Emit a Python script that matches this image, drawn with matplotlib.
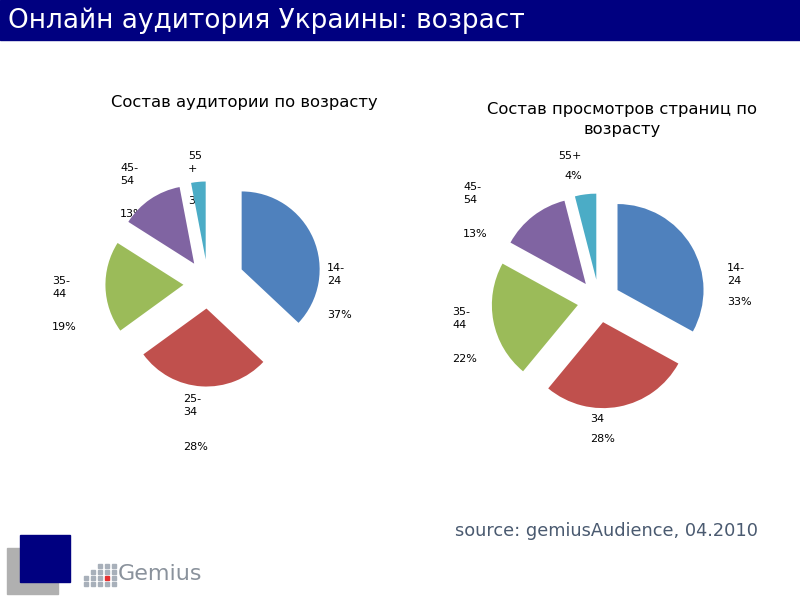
import matplotlib
matplotlib.use('Agg')
import matplotlib.pyplot as plt
from matplotlib.patches import Rectangle

# Data
age_groups = ['14-24', '25-34', '35-44', '45-54', '55+']
audience_share = [37, 28, 19, 13, 3]
pageviews_share = [33, 28, 22, 13, 4]
colors = ['#4F81BD', '#C0504D', '#9BBB59', '#8064A2', '#4BACC6']

# Label texts as they appear on the slide (wrapped / clipped like the original)
left_labels = ['14-\n24', '25-\n34', '35-\n44', '45-\n54', '55\n+']
right_labels = ['14-\n24', '34', '35-\n44', '45-\n54', '55+']

W, H = 800, 600
fig = plt.figure(figsize=(8, 6), dpi=100)
fig.patch.set_facecolor('white')


def fx(x):
    return x / W


def fy(y):
    return 1 - y / H


# header band
fig.patches.append(Rectangle((0, fy(40)), 1, 40 / H, transform=fig.transFigure,
                             color='#000080', zorder=0))
fig.text(fx(8), fy(21), 'Онлайн аудитория Украины: возраст', color='white',
         fontsize=19, va='center', ha='left')


def draw_pie(values, labels, center, radius, explode, title, title_pos,
             name_pos, pct_pos):
    cx, cy = center
    half = 140
    ax = fig.add_axes([fx(cx - half), fy(cy + half), 2 * half / W, 2 * half / H])
    ax.pie(values, colors=colors, startangle=90, counterclock=False,
           explode=explode, wedgeprops=dict(linewidth=0))
    lim = half / radius
    ax.set_xlim(-lim, lim)
    ax.set_ylim(-lim, lim)
    ax.axis('off')
    fig.text(fx(title_pos[0]), fy(title_pos[1]), title, fontsize=11.8,
             ha='center', va='top', linespacing=1.4)
    # labels sit behind the wedges (some are partly hidden in the original)
    for lab, v, (x, y), (px, py) in zip(labels, values, name_pos, pct_pos):
        fig.text(fx(x), fy(y - 4), lab, fontsize=8, ha='left', va='top',
                 linespacing=1.35, zorder=-1)
        fig.text(fx(px), fy(py - 4), f'{v}%', fontsize=8, ha='left', va='top',
                 zorder=-1)


draw_pie(audience_share, left_labels, (208, 284), 78,
         [0.47, 0.315, 0.315, 0.315, 0.315],
         'Состав аудитории по возрасту', (244, 95),
         [(327, 267), (183, 398), (52, 280), (120, 167), (188, 155)],
         [(327, 314), (183, 446), (52, 326), (120, 213), (188, 200)])

draw_pie(pageviews_share, right_labels, (599, 301), 86, [0.25] * 5,
         'Состав просмотров страниц по\nвозрасту', (622, 102),
         [(727, 267), (590, 418), (452, 311), (463, 186), (558, 155)],
         [(727, 301), (590, 438), (452, 358), (463, 233), (564, 175)])

# source note
fig.text(fx(455), fy(531), 'source: gemiusAudience, 04.2010', color='#4A5A70',
         fontsize=12.8, ha='left', va='center')

# logo block
fig.patches.append(Rectangle((fx(7), fy(594)), 51 / W, 46 / H,
                             transform=fig.transFigure, color='#B0B0B0', zorder=0))
fig.patches.append(Rectangle((fx(20), fy(582)), 50 / W, 47 / H,
                             transform=fig.transFigure, color='#000080', zorder=1))
for row in range(4):
    for col in range(5):
        if row + col < 2:
            continue
        c = '#E53030' if (row == 2 and col == 3) else '#A8B0BA'
        x = 84 + col * 7
        y = 564 + row * 6
        fig.patches.append(Rectangle((fx(x), fy(y + 4)), 4 / W, 4 / H,
                                     transform=fig.transFigure, color=c, zorder=1))
fig.text(fx(118), fy(574), 'Gemius', color='#8A929C', fontsize=16,
         ha='left', va='center')

fig.savefig('out.png', dpi=100)
